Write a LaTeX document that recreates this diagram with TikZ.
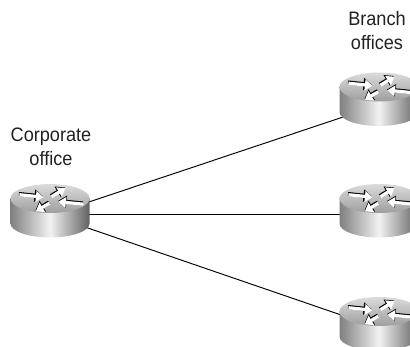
\documentclass[tikz,border=0pt]{standalone}
\usepackage{fontspec}
\setmainfont[FakeStretch=0.93]{Liberation Sans}
\usetikzlibrary{arrows.meta}
\definecolor{sideA}{gray}{0.50}
\definecolor{sideB}{gray}{0.95}
\definecolor{sideC}{gray}{0.38}
\definecolor{topA}{gray}{0.86}
\definecolor{topB}{gray}{0.62}
\definecolor{inkgray}{gray}{0.13}
\tikzset{
  hub/.style={inner sep=0pt,minimum size=1pt},
  link/.style={draw=black,line width=0.95pt},
  caption/.style={align=center,font=\fontsize{19.5}{24}\selectfont,text=inkgray,inner sep=0pt},
  arrowout/.style={draw=black,line width=4pt,-{Triangle[length=8.5pt,width=12pt]}},
  arrowin/.style={draw=white,line width=3.2pt,shift={(0.4,0.7)},-{Triangle[length=7.5pt,width=10.5pt]}}
}
\newcommand{\rarrow}[2]{%
  \draw[arrowout] (#1) -- (#2);
  \draw[arrowin] (#1) -- (#2);
}
\newcommand{\routerpic}[2]{%
  \begin{scope}[shift={(#1,#2)}]
    \path[left color=sideA,right color=sideC,middle color=sideB]
      (-39.5,0) -- (-39.5,25) arc[start angle=180,end angle=0,x radius=39.5,y radius=14] -- (39.5,0) -- cycle;
    \shade[top color=topA,bottom color=topB] (0,0) ellipse[x radius=39.5,y radius=14.5];
    \rarrow{-31,-4.5}{-7,-2}
    \rarrow{1,-2.5}{15,-11}
    \rarrow{33,5}{8,2.5}
    \rarrow{-1,4}{-14.5,12}
  \end{scope}
}
\begin{document}
\begin{tikzpicture}[x=1pt,y=-1pt]
  \useasboundingbox (0,0) rectangle (410,347);
  \clip (0,0) rectangle (410,347);
  \node[hub] (corp) at (50,214) {};
  \node[hub] (branchA) at (379,105) {};
  \node[hub] (branchB) at (379,214) {};
  \node[hub] (branchC) at (379,328) {};
  \coordinate (corpA) at (50,215);
  \coordinate (corpC) at (50,215);
  \draw[link] (corpA) -- (branchA);
  \draw[link] (corp) -- (branchB);
  \draw[link] (corpC) -- (branchC);
  \routerpic{50}{198.5}
  \routerpic{379}{87}
  \routerpic{379}{198.5}
  \routerpic{379}{311.5}
  \node[caption] (corpLabel) at (51,147) {Corporate\\office};
  \node[caption] (branchLabel) at (377,31) {Branch\\offices};
\end{tikzpicture}
\end{document}
